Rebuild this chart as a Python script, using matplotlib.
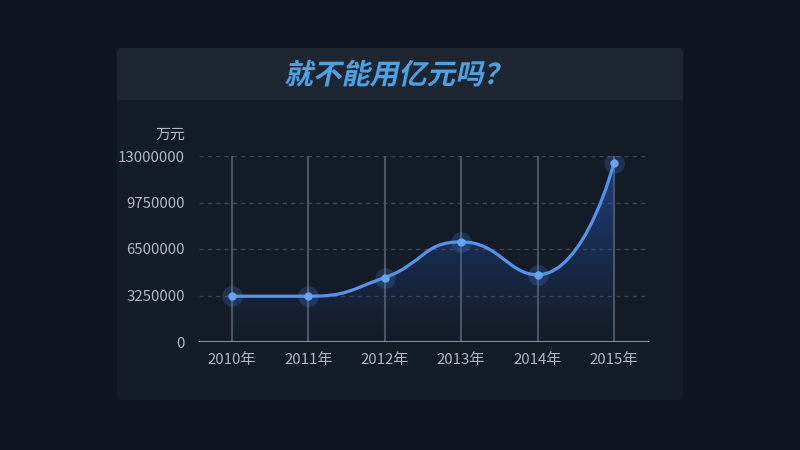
import matplotlib
matplotlib.use("Agg")
import matplotlib.pyplot as plt
import numpy as np
from matplotlib.path import Path
from matplotlib.patches import FancyBboxPatch, Rectangle, PathPatch
from matplotlib.patheffects import AbstractPathEffect
from matplotlib.transforms import Affine2D

plt.rcParams['font.family'] = ['Noto Sans CJK SC', 'DejaVu Sans']

years = ["2010年", "2011年", "2012年", "2013年", "2014年", "2015年"]
values = [3200000, 3200000, 4500000, 7000000, 4700000, 12500000]
yticks = [0, 3250000, 6500000, 9750000, 13000000]
title = "就不能用亿元吗？"
unit = "万元"

bg = "#0e1520"
card = "#131b26"
bar = "#1c2530"
line_c = "#5592ec"
text_c = "#adb6c4"


class Slant(AbstractPathEffect):
    # fake italic for the CJK title: shear glyphs around the text baseline area
    def __init__(self, y0, deg):
        super().__init__()
        self.t = Affine2D().translate(0, -y0).skew_deg(deg, 0).translate(0, y0)

    def draw_path(self, renderer, gc, tpath, affine, rgbFace=None):
        renderer.draw_path(gc, tpath, affine + self.t, rgbFace)


fig = plt.figure(figsize=(8, 4.5), dpi=100, facecolor=bg)

def px(x, y):
    return x / 800, 1 - y / 450

# card body and title bar
fig.patches.append(FancyBboxPatch(px(117, 400), 566 / 800, 352 / 450,
                                  boxstyle="round,pad=0,rounding_size=0.006",
                                  transform=fig.transFigure, fc=card, ec="none", zorder=-3))
fig.patches.append(FancyBboxPatch(px(117, 100), 566 / 800, 52 / 450,
                                  boxstyle="round,pad=0,rounding_size=0.006",
                                  transform=fig.transFigure, fc=bar, ec="none", zorder=-2))
fig.patches.append(Rectangle(px(117, 100), 566 / 800, 20 / 450,
                             transform=fig.transFigure, fc=bar, ec="none", zorder=-2))
fig.text(0.5, 1 - 76 / 450, title, color="#4ba2e2", fontsize=20.5, fontweight="bold",
         ha="center", va="center", path_effects=[Slant(450 - 76, 12)])

ax = fig.add_axes([199 / 800, (450 - 342) / 450, 450 / 800, 186 / 450])
ax.set_facecolor("none")
x = np.arange(len(years))

# grid
for yv in yticks[1:]:
    ax.axhline(yv, color="#3b4553", lw=1, ls=(0, (3, 3)), zorder=1)
for xi in x:
    ax.plot([xi, xi], [0, 13000000], color="#4a5563", lw=1.5, zorder=1)
ax.axhline(0, color="#8ea2ba", lw=2, zorder=3)

# smooth curve (echarts-style bezier with clamped control points), pixel space
sx = 76.46
sy = 186 / 13000000
P = np.column_stack([x * sx, np.array(values) * sy])
n = len(P)
cp_in = P.copy()
cp_out = P.copy()
s = 0.5
for i in range(1, n - 1):
    prv, cur, nxt = P[i - 1], P[i], P[i + 1]
    d0 = np.hypot(*(cur - prv))
    d1 = np.hypot(*(nxt - cur))
    r = d1 / (d0 + d1)
    nc = cur + (nxt - prv) * s * r
    nc = np.minimum(np.maximum(nc, np.minimum(cur, nxt)), np.maximum(cur, nxt))
    c1 = cur - (nc - cur) * d0 / d1
    c1 = np.minimum(np.maximum(c1, np.minimum(cur, prv)), np.maximum(cur, prv))
    nc = cur + (cur - c1) * d1 / d0
    cp_in[i] = c1
    cp_out[i] = nc
verts = [P[0]]
codes = [Path.MOVETO]
for i in range(n - 1):
    verts += [cp_out[i], cp_in[i + 1], P[i + 1]]
    codes += [Path.CURVE4] * 3
verts = np.array(verts) / np.array([sx, sy])
curve = Path(verts, codes)

# gradient area
area = Path(np.vstack([verts, [[x[-1], 0], [x[0], 0], verts[0]]]),
            codes + [Path.LINETO, Path.LINETO, Path.CLOSEPOLY])
clip = PathPatch(area, fc="none", ec="none", transform=ax.transData)
ax.add_patch(clip)
grad = np.zeros((256, 1, 4))
grad[:, 0, 0] = 0.15
grad[:, 0, 1] = 0.33
grad[:, 0, 2] = 0.68
grad[:, 0, 3] = np.linspace(0.7, 0.03, 256) ** 1.2
im = ax.imshow(grad, extent=[x[0], x[-1], 0, 13000000], aspect="auto", zorder=2,
               interpolation="bilinear", origin="upper")
im.set_clip_path(clip)
ax.set_xlim(-0.428, 5.458)
ax.set_ylim(0, 13000000)

ax.add_patch(PathPatch(curve, fc="none", ec=line_c, lw=2.3, zorder=4, capstyle="round"))
ax.scatter(x, values, s=220, color=line_c, alpha=0.2, lw=0, zorder=5)
ax.scatter(x, values, s=36, color="#63a4f6", lw=0, zorder=6)

ax.set_xticks(x)
ax.set_xticklabels(years)
ax.set_yticks(yticks)
ax.set_yticklabels([str(v) for v in yticks])
ax.tick_params(length=0, colors=text_c, labelsize=10.8)
ax.tick_params(axis="x", pad=8)
ax.tick_params(axis="y", pad=10)
for sp in ax.spines.values():
    sp.set_visible(False)
fig.text(185 / 800, 1 - 135 / 450, unit, color=text_c, fontsize=10.8, ha="right", va="center")

fig.savefig("out.png", dpi=100, facecolor=bg)
